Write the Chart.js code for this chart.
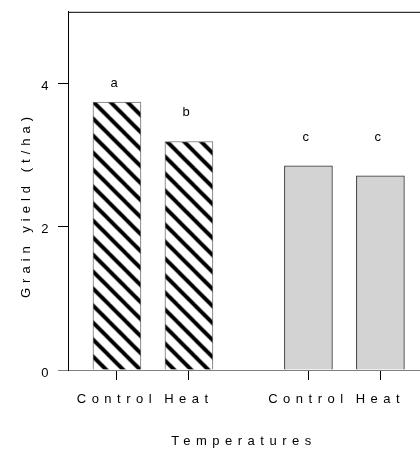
<!DOCTYPE html>
<html>
<head>
<meta charset="utf-8">
<script src="https://cdn.jsdelivr.net/npm/chart.js@4"></script>
<style>
html, body { margin: 0; padding: 0; background: #fff; }
</style>
</head>
<body>
<canvas id="myChart" width="420" height="450"></canvas>
<script>
const treatments = ['Control', 'Heat', 'Control', 'Heat'];
const xPos = [1, 2, 3.66, 4.66];
const grainYield = [3.74, 3.19, 2.85, 2.71];
const sigLetters = ['a', 'b', 'c', 'c'];
const sigHeight = [4.0, 3.6, 3.25, 3.25];
const yTicks = [0, 2, 4];
const xTitle = 'Temperatures';
const yTitle = 'Grain yield (t/ha)';

const FONT = '"Liberation Sans", Arial, sans-serif';
const SPACING = '5.5px';

Chart.defaults.font.family = FONT;
Chart.defaults.font.size = 13;
Chart.defaults.color = '#000';

function hatch(){
  const T = 17;
  const c = document.createElement('canvas');
  c.width = T; c.height = T;
  const g = c.getContext('2d');
  g.fillStyle = '#fff';
  g.fillRect(0, 0, T, T);
  g.strokeStyle = '#000';
  g.lineWidth = 4;
  for (let k = -1; k <= 1; k++){
    g.beginPath();
    g.moveTo(k * T - 3, -3);
    g.lineTo(k * T + T + 3, T + 3);
    g.stroke();
  }
  const p = g.createPattern(c, 'repeat');
  p.setTransform(new DOMMatrix().translate(8.5, 0));
  return p;
}
const stripes = hatch();

// letter spaced text like the original
const spacing = {
  id: 'spacing',
  beforeLayout(chart){ chart.ctx.letterSpacing = SPACING; },
  beforeDraw(chart){ chart.ctx.letterSpacing = SPACING; }
};

const extras = {
  id: 'extras',
  afterDatasetsDraw(chart){
    const {ctx, chartArea, scales: {x, y}} = chart;
    ctx.save();
    ctx.letterSpacing = SPACING;
    ctx.strokeStyle = '#000';
    ctx.lineWidth = 1;
    ctx.beginPath();
    ctx.moveTo(chartArea.left, chartArea.top + 0.5);
    ctx.lineTo(chartArea.right, chartArea.top + 0.5);
    ctx.stroke();
    ctx.fillStyle = '#000';
    ctx.font = '13px ' + FONT;
    ctx.textAlign = 'center';
    ctx.textBaseline = 'middle';
    sigLetters.forEach(function(s, i){
      ctx.fillText(s, x.getPixelForValue(xPos[i]), y.getPixelForValue(sigHeight[i]));
    });
    ctx.letterSpacing = '5px';
    ctx.translate(26, 205);
    ctx.rotate(-Math.PI / 2);
    ctx.fillText(yTitle, 0, 0);
    ctx.restore();
  }
};

const ctx = document.getElementById('myChart');
new Chart(ctx, {
  type: 'bar',
  data: {
    datasets: [{
      data: xPos.map(function(v, i){ return {x: v, y: grainYield[i]}; }),
      backgroundColor: [stripes, stripes, '#d3d3d3', '#d3d3d3'],
      borderColor: ['#707070', '#707070', '#303030', '#303030'],
      borderWidth: 1,
      borderSkipped: 'start',
      barThickness: 48
    }]
  },
  options: {
    responsive: false,
    animation: false,
    layout: { padding: { top: 10, right: 0, left: 0, bottom: 0 } },
    plugins: { legend: { display: false }, tooltip: { enabled: false } },
    scales: {
      x: {
        type: 'linear',
        offset: false,
        min: 0.32,
        max: 5.21,
        afterBuildTicks: function(s){ s.ticks = xPos.map(function(v){ return {value: v}; }); },
        afterFit: function(s){ s.height = 80; },
        ticks: {
          autoSkip: false,
          maxRotation: 0,
          minRotation: 0,
          padding: 12,
          callback: function(val, index){ return treatments[index]; }
        },
        grid: { offset: false, drawOnChartArea: false, tickLength: 10, color: '#000' },
        border: { color: '#808080' },
        title: { display: true, text: xTitle, padding: { top: 0, bottom: 1 } }
      },
      y: {
        min: 0,
        max: 5,
        afterBuildTicks: function(s){ s.ticks = yTicks.map(function(v){ return {value: v}; }); },
        afterFit: function(s){ s.width = 68; },
        ticks: { padding: 4, labelOffset: 3 },
        grid: {
          drawOnChartArea: false,
          tickLength: 10,
          color: function(c){ return c.tick && c.tick.value === 0 ? '#808080' : '#000'; }
        },
        border: { color: '#000' }
      }
    }
  },
  plugins: [spacing, extras]
});
</script>
</body>
</html>
